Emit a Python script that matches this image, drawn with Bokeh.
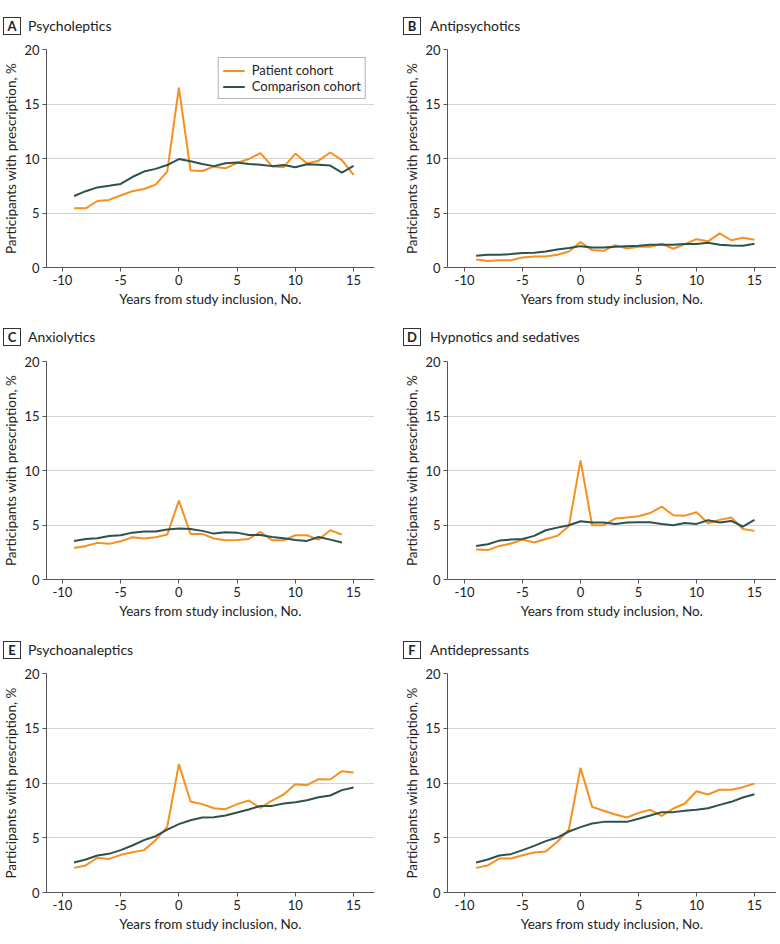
from bokeh.plotting import figure
from bokeh.layouts import row, column
from bokeh.models import Range1d, FixedTicker, Div
from bokeh.embed import file_html
from bokeh.resources import INLINE

# ---------------- data ----------------
years = list(range(-9, 16))
years_c = list(range(-9, 15))

psycholeptics_patient = [5.43, 5.43, 6.1, 6.2, 6.6, 7.0, 7.2, 7.6, 8.8, 16.5, 8.9, 8.85, 9.25, 9.1, 9.6,
                         9.95, 10.5, 9.3, 9.2, 10.45, 9.55, 9.8, 10.55, 9.85, 8.5]
psycholeptics_comparison = [6.56, 7.0, 7.35, 7.5, 7.67, 8.3, 8.8, 9.05, 9.4, 9.95, 9.75, 9.5, 9.3, 9.57, 9.63,
                            9.5, 9.42, 9.3, 9.4, 9.2, 9.48, 9.42, 9.35, 8.7, 9.33]

antipsychotics_patient = [0.74, 0.6, 0.67, 0.67, 0.92, 1.0, 1.0, 1.17, 1.47, 2.33, 1.6, 1.53, 2.05, 1.75, 1.9,
                          1.9, 2.18, 1.72, 2.15, 2.6, 2.4, 3.13, 2.5, 2.73, 2.55]
antipsychotics_comparison = [1.07, 1.17, 1.17, 1.23, 1.32, 1.35, 1.47, 1.66, 1.78, 1.96, 1.84, 1.84, 1.9, 1.96,
                             2.0, 2.09, 2.09, 2.09, 2.15, 2.15, 2.27, 2.09, 2.02, 2.0, 2.18]

anxiolytics_patient = [2.9, 3.08, 3.36, 3.27, 3.5, 3.88, 3.76, 3.88, 4.12, 7.24, 4.18, 4.18, 3.76, 3.6, 3.63,
                       3.72, 4.37, 3.6, 3.6, 4.06, 4.06, 3.66, 4.52, 4.12]
anxiolytics_comparison = [3.54, 3.72, 3.79, 4.0, 4.06, 4.3, 4.4, 4.4, 4.58, 4.67, 4.64, 4.46, 4.21, 4.34, 4.3,
                          4.09, 4.09, 3.9, 3.79, 3.63, 3.54, 3.9, 3.66, 3.39]

hypnotics_patient = [2.75, 2.7, 3.08, 3.3, 3.66, 3.39, 3.72, 4.0, 4.9, 10.93, 4.98, 4.98, 5.59, 5.68, 5.8,
                     6.1, 6.69, 5.9, 5.86, 6.17, 5.16, 5.47, 5.68, 4.64, 4.46]
hypnotics_comparison = [3.08, 3.24, 3.57, 3.66, 3.72, 4.0, 4.52, 4.76, 4.98, 5.34, 5.22, 5.22, 5.1, 5.22, 5.25,
                        5.25, 5.1, 4.98, 5.19, 5.1, 5.44, 5.22, 5.37, 4.86, 5.47]

psychoanaleptics_patient = [2.25, 2.47, 3.17, 3.07, 3.44, 3.68, 3.87, 4.78, 6.0, 11.72, 8.31, 8.07, 7.7, 7.61,
                            8.07, 8.4, 7.73, 8.4, 8.95, 9.89, 9.8, 10.35, 10.32, 11.08, 10.96]
psychoanaleptics_comparison = [2.74, 3.01, 3.38, 3.53, 3.87, 4.29, 4.78, 5.14, 5.75, 6.24, 6.6, 6.85, 6.88, 7.03,
                               7.3, 7.58, 7.91, 7.91, 8.13, 8.25, 8.43, 8.7, 8.86, 9.35, 9.59]

antidepressants_patient = [2.25, 2.47, 3.1, 3.1, 3.4, 3.65, 3.74, 4.63, 5.75, 11.38, 7.82, 7.46, 7.12, 6.85,
                           7.27, 7.55, 7.0, 7.67, 8.13, 9.25, 8.95, 9.38, 9.38, 9.62, 9.96]
antidepressants_comparison = [2.74, 3.01, 3.38, 3.5, 3.87, 4.26, 4.69, 5.02, 5.57, 5.97, 6.3, 6.45, 6.45, 6.45,
                              6.73, 7.03, 7.34, 7.34, 7.46, 7.55, 7.7, 8.0, 8.28, 8.68, 8.98]

panel_letters = ["A", "B", "C", "D", "E", "F"]
panel_titles = ["Psycholeptics", "Antipsychotics", "Anxiolytics", "Hypnotics and sedatives",
                "Psychoanaleptics", "Antidepressants"]
series_names = ["Patient cohort", "Comparison cohort"]
x_ticks = [-10, -5, 0, 5, 10, 15]
x_tick_labels = ["-10", "-5", "0", "5", "10", "15"]
y_ticks = [0, 5, 10, 15, 20]
x_label = "Years from study inclusion, No."
y_label = "Participants with prescription, %"

ORANGE = "#F7901E"
TEAL = "#2B524D"
FONT = "Lato"
TEXT = "#222222"

# per-row geometry: (title height, box top, fig height, border_top, border_bottom)
rows_geom = [(41, 17, 271, 8, 45), (41, 16, 275, 8, 49), (37, 13, 275, 8, 48)]
# per-column geometry: (width, border_left, border_right, x_start, x_end, box_left, title_left)
cols_geom = [(390, 46, 16, -11.37, 16.8, 3, 28), (386, 57, 0, -11.47, 16.9, 13, 40)]

data = [
    (years, psycholeptics_patient, psycholeptics_comparison),
    (years, antipsychotics_patient, antipsychotics_comparison),
    (years_c, anxiolytics_patient, anxiolytics_comparison),
    (years, hypnotics_patient, hypnotics_comparison),
    (years, psychoanaleptics_patient, psychoanaleptics_comparison),
    (years, antidepressants_patient, antidepressants_comparison),
]


def make_title(i):
    r, c = divmod(i, 2)
    th, box_top, _, _, _ = rows_geom[r]
    w, _, _, _, _, box_left, title_left = cols_geom[c]
    html = (
        f'<div style="position:relative;width:{w}px;height:{th}px;font-family:{FONT};color:{TEXT};">'
        f'<div style="position:absolute;left:{box_left}px;top:{box_top}px;width:18px;height:18px;'
        f'box-sizing:border-box;border:1px solid #333;font-weight:bold;font-size:13px;'
        f'line-height:16px;text-align:center;">{panel_letters[i]}</div>'
        f'<div style="position:absolute;left:{title_left}px;top:{box_top}px;font-size:14px;'
        f'line-height:18px;white-space:nowrap;">{panel_titles[i]}</div>'
        f'</div>'
    )
    return Div(text=html, width=w, height=th, margin=(0, 0, 0, 0))


def make_panel(i):
    r, c = divmod(i, 2)
    _, _, h, bt, bb = rows_geom[r]
    w, bl, br, x0, x1, _, _ = cols_geom[c]
    p = figure(width=w, height=h, output_backend="svg", toolbar_location=None,
               x_range=Range1d(x0, x1), y_range=Range1d(0, 20),
               min_border_left=bl, min_border_right=br, min_border_top=bt, min_border_bottom=bb)
    p.outline_line_color = None
    p.xgrid.grid_line_color = None
    p.ygrid.grid_line_color = "#D4D4D4"
    p.ygrid.grid_line_width = 1
    p.ygrid.ticker = FixedTicker(ticks=[5, 10, 15, 20])
    p.xaxis.ticker = FixedTicker(ticks=x_ticks)
    p.xaxis.major_label_overrides = {t: s for t, s in zip(x_ticks, x_tick_labels)}
    p.yaxis.ticker = FixedTicker(ticks=y_ticks)
    for ax in (p.xaxis[0], p.yaxis[0]):
        ax.axis_line_color = "#555555"
        ax.major_tick_line_color = "#555555"
        ax.major_tick_out = 4
        ax.major_tick_in = 0
        ax.minor_tick_line_color = None
        ax.major_label_text_font = FONT
        ax.major_label_text_font_size = "13px"
        ax.major_label_text_color = TEXT
        ax.axis_label_text_font = FONT
        ax.axis_label_text_font_size = "13.5px"
        ax.axis_label_text_font_style = "normal"
        ax.axis_label_text_color = TEXT
        ax.major_label_standoff = 3
        ax.axis_label_standoff = 3
    p.xaxis.axis_label = x_label
    p.yaxis.axis_label = y_label
    p.yaxis.axis_label_standoff = 2

    xs, pat, comp = data[i]
    if i == 0:
        p.line(xs, pat, line_color=ORANGE, line_width=2, legend_label=series_names[0])
        p.line(xs, comp, line_color=TEAL, line_width=2, legend_label=series_names[1])
        lg = p.legend[0]
        lg.location = "top_right"
        lg.margin = 8
        lg.padding = 4
        lg.spacing = 0
        lg.label_height = 13
        lg.glyph_height = 13
        lg.glyph_width = 22
        lg.label_standoff = 7
        lg.label_text_font = FONT
        lg.label_text_font_size = "13px"
        lg.label_text_color = TEXT
        lg.border_line_color = "#666666"
        lg.border_line_width = 1
        lg.background_fill_alpha = 1
    else:
        p.line(xs, pat, line_color=ORANGE, line_width=2)
        p.line(xs, comp, line_color=TEAL, line_width=2)
    return p


figs = [make_panel(i) for i in range(6)]
titles = [make_title(i) for i in range(6)]
layout = column(
    row(titles[0], titles[1], spacing=0),
    row(figs[0], figs[1], spacing=0),
    row(titles[2], titles[3], spacing=0),
    row(figs[2], figs[3], spacing=0),
    row(titles[4], titles[5], spacing=0),
    row(figs[4], figs[5], spacing=0),
    spacing=0,
)

open("out.html", "w").write(file_html(layout, INLINE))
